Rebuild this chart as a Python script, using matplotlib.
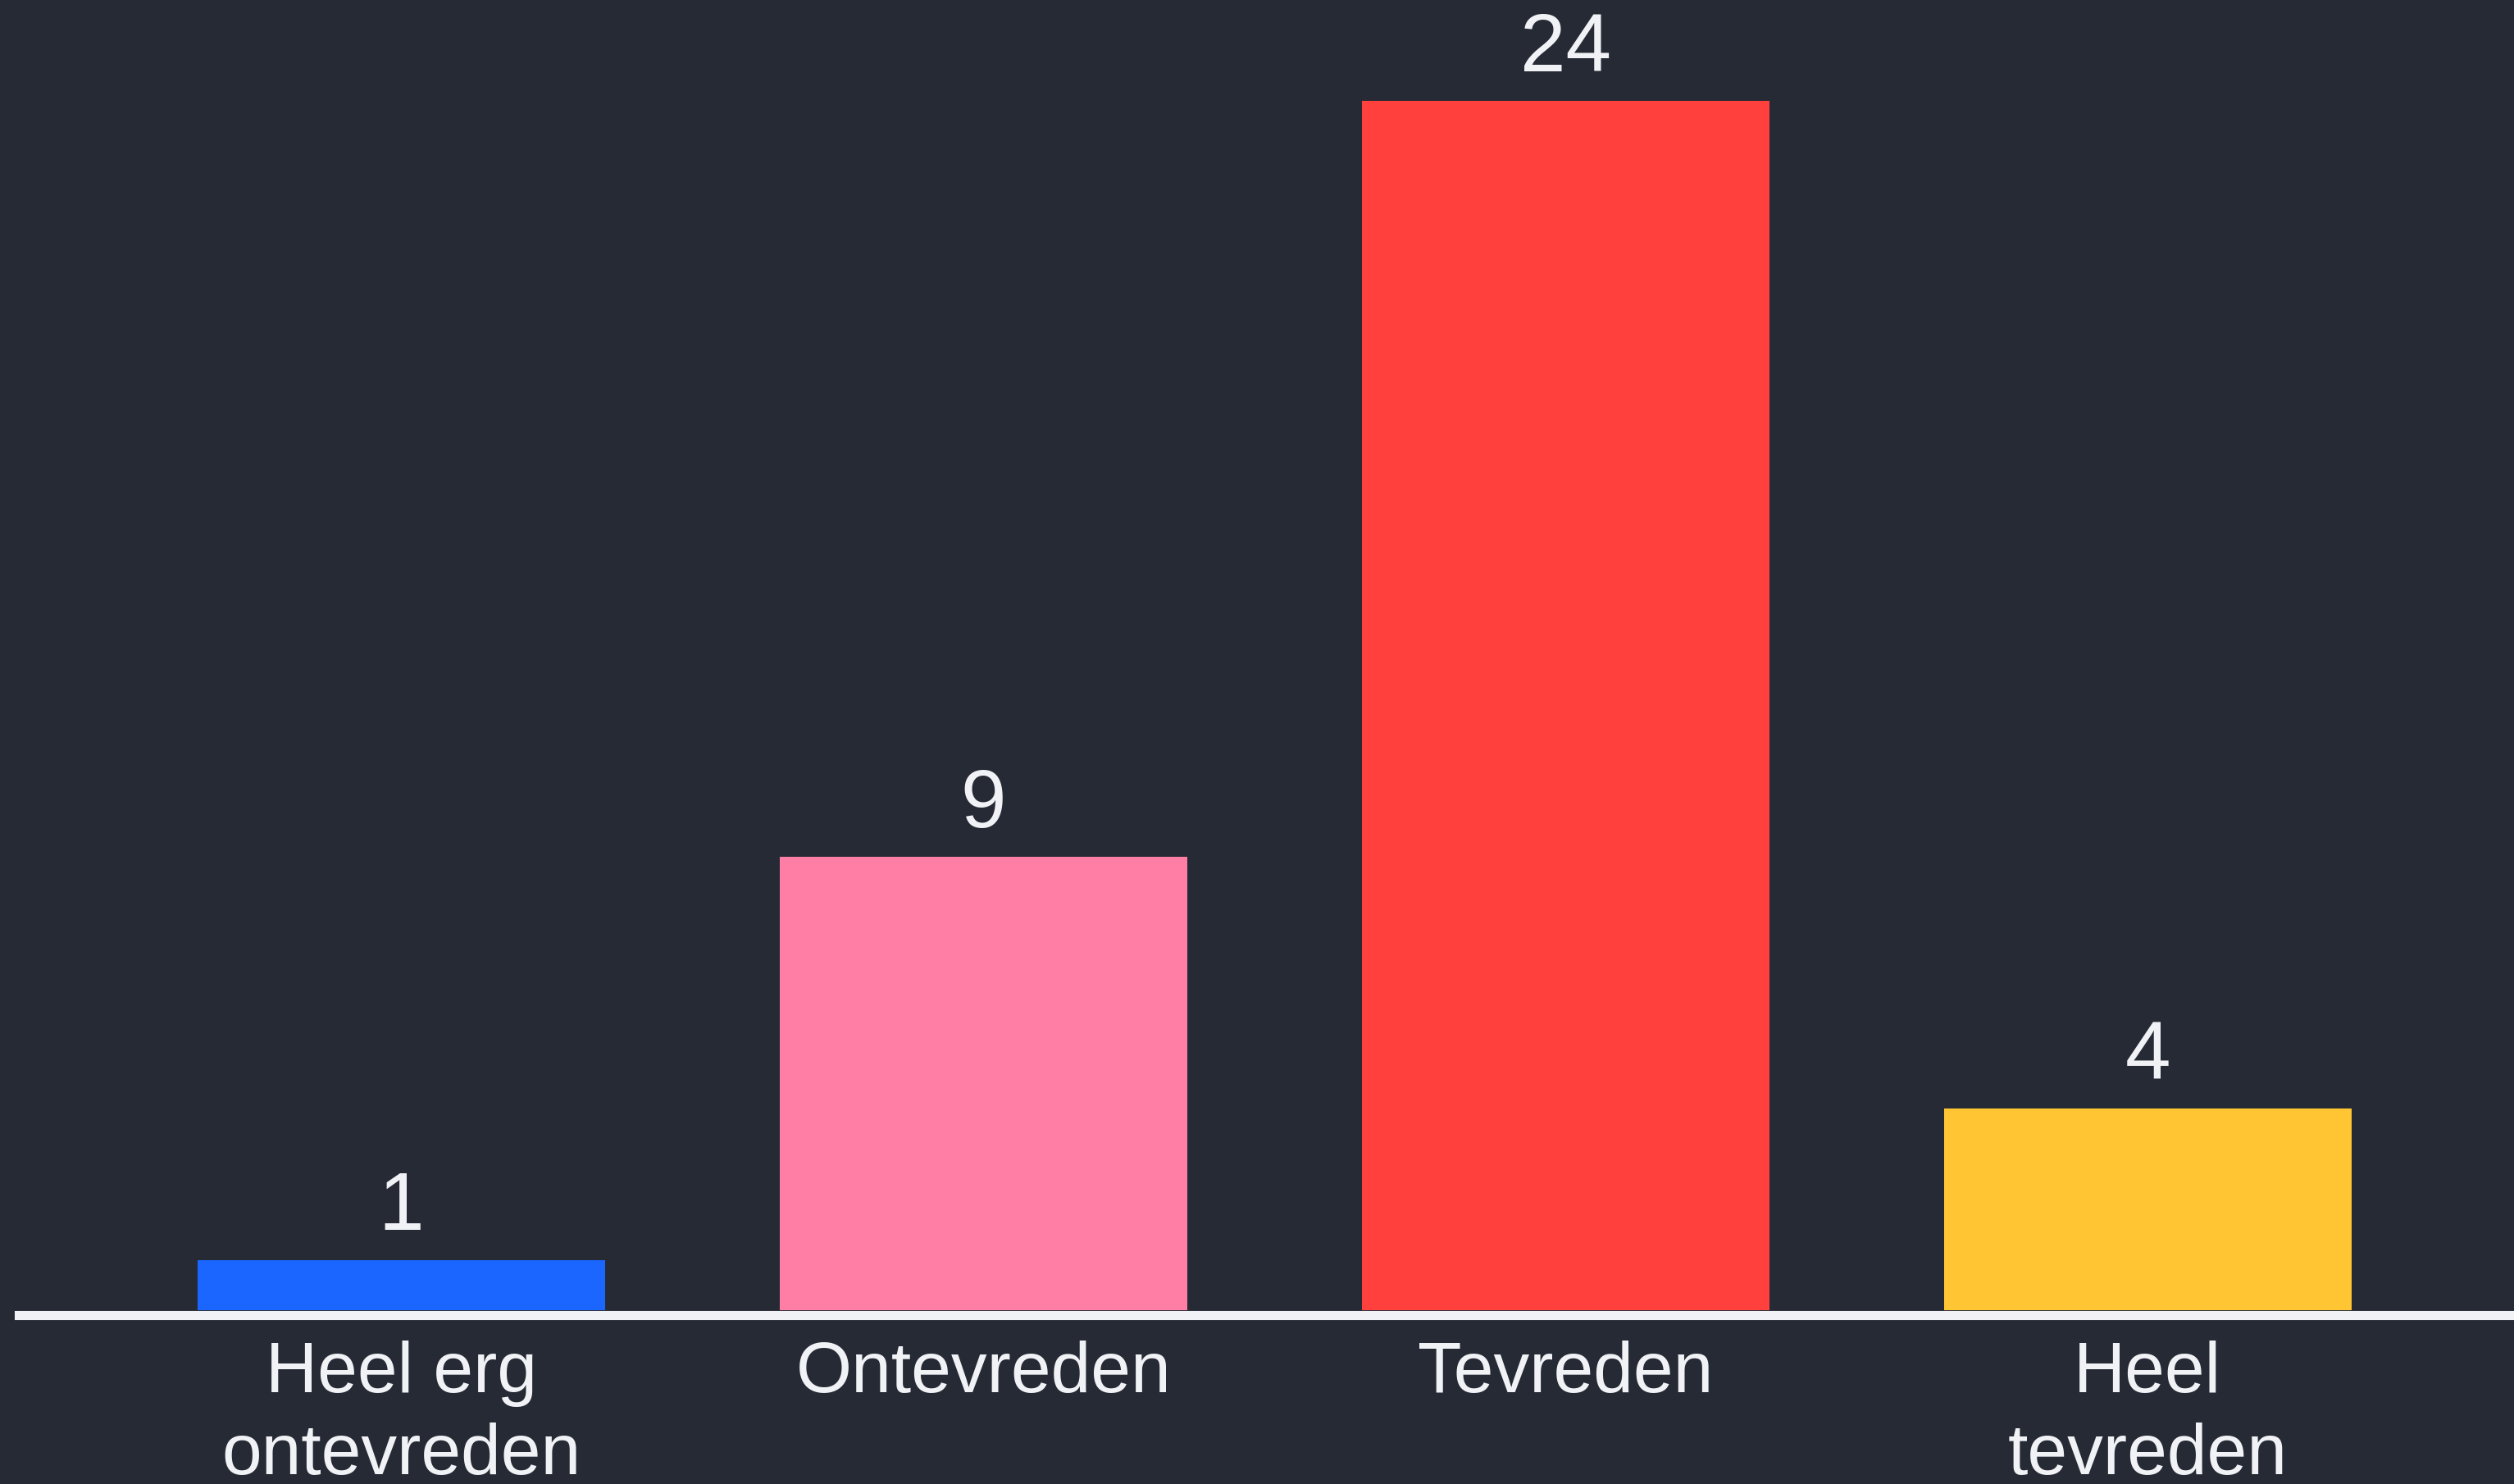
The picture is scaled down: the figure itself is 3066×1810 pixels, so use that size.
import matplotlib
matplotlib.use("Agg")
import matplotlib.pyplot as plt

categories = ["Heel erg\nontevreden", "Ontevreden", "Tevreden", "Heel\ntevreden"]
values = [1, 9, 24, 4]
colors = ["#1A66FF", "#FF7EA6", "#FF403D", "#FFC533"]

bg = "#262A35"
fg = "#F0F2F5"

plt.rcParams['font.family'] = ['Liberation Sans', 'DejaVu Sans']

fig = plt.figure(figsize=(30.66, 18.10), dpi=100, facecolor=bg)
ax = fig.add_axes([23 / 3066, (1810 - 1598) / 1810, 1 - 23 / 3066, 1598 / 1810])
ax.set_facecolor(bg)

x = list(range(len(categories)))
ax.bar(x, values, width=0.70, color=colors, zorder=2)

for xi, v in zip(x, values):
    ax.annotate(str(v), (xi, v), xytext=(0, 26), textcoords="offset points",
                ha="center", va="baseline", fontsize=72, color=fg)

ax.set_xlim(-0.657, 3.629)
ax.set_ylim(0, 26.0)

for s in ["top", "right", "left"]:
    ax.spines[s].set_visible(False)
ax.spines["bottom"].set_color(fg)
ax.spines["bottom"].set_linewidth(8)
ax.spines["bottom"].set_position(("outward", 4.5))
ax.spines["bottom"].set_zorder(3)

ax.set_yticks([])
ax.set_xticks(x)
ax.set_xticklabels(categories, fontsize=63, color=fg, linespacing=1.3)
ax.tick_params(axis="x", length=0, pad=22)

fig.savefig("out.png", dpi=100, facecolor=bg)
